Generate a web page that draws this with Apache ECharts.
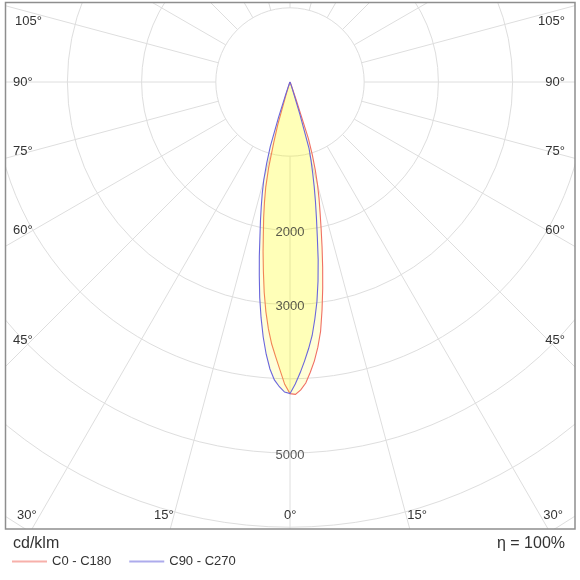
<!DOCTYPE html>
<html><head><meta charset="utf-8">
<script src="https://cdn.jsdelivr.net/npm/echarts@6/dist/echarts.min.js"></script>
<style>html,body{margin:0;padding:0;background:#fff}#c{width:580px;height:580px}</style>
</head><body><div id="c"></div>
<script>
// gamma angles (degrees from nadir)
const gammaDeg = [0,1,2,3,4,5,6,7,8,9,10,11,12,13,14,15,16,17,18,19,20,22,25,30,45,60,90];
// intensities in cd/klm
const c0   = [4200,4210,4152,4062,3922,3772,3594,3384,3103,2818,2535,2264,2016,1800,1617,1434,1239,1032,800,250,100,30,5,0,0,0,0];
const c180 = [4200,4075,3883,3707,3540,3340,3111,2854,2577,2320,2068,1860,1655,1453,1190,850,600,200,80,40,20,5,0,0,0,0,0];
const c90  = [4200,4071,3922,3763,3601,3429,3208,2980,2713,2427,2121,1868,1651,1451,1264,1097,930,450,150,70,30,5,0,0,0,0,0];
const c270 = [4200,4180,4109,4020,3877,3683,3456,3200,2933,2645,2381,2123,1915,1722,1544,1367,1141,907,500,180,80,25,5,0,0,0,0];
const radiusLabelValues = [2000,3000,5000];
const seriesNames = ['C0 - C180','C90 - C270'];
const leftAngleLabels = ['105°','90°','75°','60°','45°','30°','15°','0°'];
const rightAngleLabels = ['105°','90°','75°','60°','45°','30°','15°'];
const unitLabel = 'cd/klm';
const effLabel = 'η = 100%';

function curve(right, left) {
  const pts = [];
  for (let i = gammaDeg.length - 1; i >= 0; i--) pts.push([left[i], 360 - gammaDeg[i]]);
  for (let i = 1; i < gammaDeg.length; i++) pts.push([right[i], gammaDeg[i]]);
  return pts;
}
const redCurve = curve(c0, c180);
const blueCurve = curve(c90, c270);

const FONT = '"Liberation Sans", Arial, sans-serif';
const RED = '#f07064', BLUE = '#6a66dc';

function curveSeries(name, pts, color, z) {
  return {
    type: 'custom', name: name, coordinateSystem: 'polar', z: z, silent: true,
    data: pts, color: color,
    renderItem: function (params, api) {
      if (params.dataIndex !== 0) return null;
      const p = pts.map(d => api.coord(d));
      return { type: 'group', children: [
        { type: 'polygon', z2: 1, shape: { points: p }, style: { fill: 'rgba(255,255,0,0.15)', stroke: null } },
        { type: 'polyline', z2: 10, shape: { points: p.concat([p[0]]) }, style: { fill: null, stroke: color, lineWidth: 1.1 } }
      ] };
    }
  };
}

// label positions on frame edges
const leftPos = [[15,21],[13,82],[13,151],[13,230],[13,340],[17,515],[154,515],[284,515]];
const rightPos = [[565,21],[565,82],[565,151],[565,230],[565,340],[563,515],[427,515]];
const texts = [];
leftAngleLabels.forEach((t, i) => texts.push({ type: 'text', x: leftPos[i][0], y: leftPos[i][1], z: 60, silent: true,
  style: { text: t, font: '13px ' + FONT, fill: '#333', textAlign: 'left', textVerticalAlign: 'middle' } }));
rightAngleLabels.forEach((t, i) => texts.push({ type: 'text', x: rightPos[i][0], y: rightPos[i][1], z: 60, silent: true,
  style: { text: t, font: '13px ' + FONT, fill: '#333', textAlign: 'right', textVerticalAlign: 'middle' } }));

const chart = echarts.init(document.getElementById('c'), null, { renderer: 'canvas' });
chart.setOption({
  animation: false,
  backgroundColor: '#fff',
  polar: { center: [290, 82], radius: [74.2, 519.4] },
  angleAxis: {
    type: 'value', min: 0, max: 360, interval: 15, startAngle: 270, clockwise: false,
    axisLine: { show: false }, axisTick: { show: false }, axisLabel: { show: false },
    splitLine: { show: true, lineStyle: { color: '#dedede', width: 1 } }
  },
  radiusAxis: {
    type: 'value', min: 1000, max: 7000, interval: 1000,
    axisLine: { show: false }, axisTick: { show: false }, axisLabel: { show: false },
    splitLine: { show: true, lineStyle: { color: '#dedede', width: 1 } }
  },
  legend: {
    data: seriesNames, left: 12, top: 555, padding: 0, itemWidth: 35, itemHeight: 2, itemGap: 18, z: 70,
    icon: 'rect', itemStyle: { opacity: 0.55 },
    textStyle: { fontFamily: FONT, fontSize: 13, color: '#333' }
  },
  series: [
    curveSeries('red-curve', redCurve, RED, 2),
    curveSeries('blue-curve', blueCurve, BLUE, 3),
    { type: 'line', name: seriesNames[0], coordinateSystem: 'polar', data: [], symbol: 'none', color: RED },
    { type: 'line', name: seriesNames[1], coordinateSystem: 'polar', data: [], symbol: 'none', color: BLUE },
    { type: 'scatter', coordinateSystem: 'polar', z: 5, silent: true, symbolSize: 1,
      itemStyle: { color: 'rgba(0,0,0,0)' },
      data: radiusLabelValues.map(v => [v, 0]),
      label: { show: true, position: 'inside', offset: [0, 2], formatter: p => String(p.value[0]),
        color: '#2e2e2e', fontSize: 13, fontFamily: FONT } }
  ],
  graphic: [
    { type: 'rect', z: 50, silent: true, shape: { x: 0, y: 0, width: 580, height: 3 }, style: { fill: '#fff' } },
    { type: 'rect', z: 50, silent: true, shape: { x: 0, y: 0, width: 5, height: 580 }, style: { fill: '#fff' } },
    { type: 'rect', z: 50, silent: true, shape: { x: 575, y: 0, width: 5, height: 580 }, style: { fill: '#fff' } },
    { type: 'rect', z: 50, silent: true, shape: { x: 0, y: 529, width: 580, height: 51 }, style: { fill: '#fff' } },
    { type: 'rect', z: 55, silent: true, shape: { x: 5.5, y: 2.5, width: 569.5, height: 526.5 },
      style: { fill: null, stroke: '#8e8e8e', lineWidth: 1.5 } },
    ...texts,
    { type: 'text', x: 13, y: 544, z: 60, silent: true,
      style: { text: unitLabel, font: '16px ' + FONT, fill: '#333', textAlign: 'left', textVerticalAlign: 'middle' } },
    { type: 'text', x: 565, y: 544, z: 60, silent: true,
      style: { text: effLabel, font: '16px ' + FONT, fill: '#333', textAlign: 'right', textVerticalAlign: 'middle' } }
  ]
});
</script></body></html>
